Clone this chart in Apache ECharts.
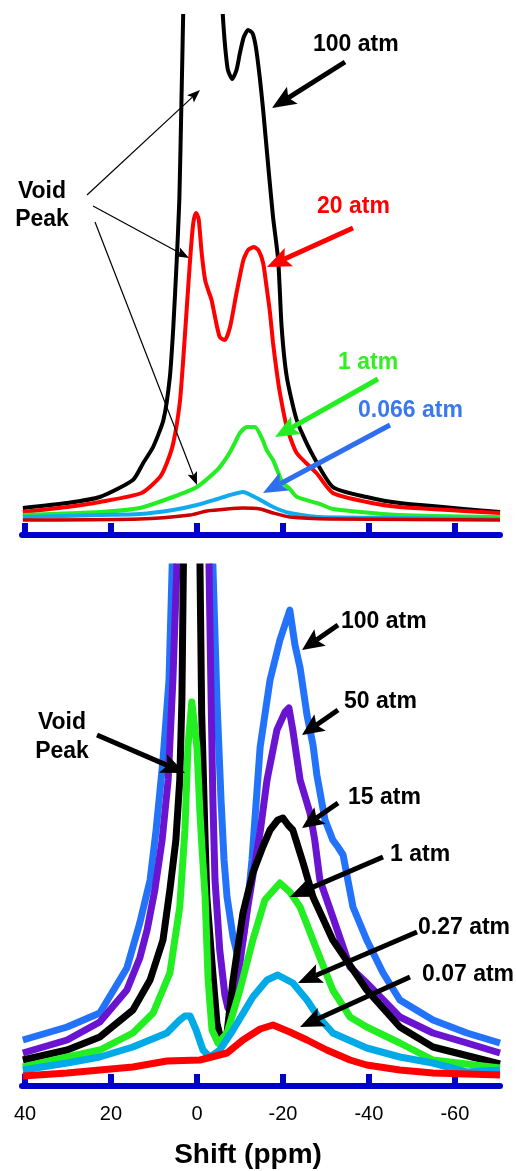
<!DOCTYPE html>
<html><head><meta charset="utf-8">
<script src="https://cdn.jsdelivr.net/npm/echarts@6/dist/echarts.min.js"></script>
<style>html,body{margin:0;padding:0;background:#fff}#c{width:516px;height:1171px}</style>
</head><body><div id="c"></div>
<script>
// ---------- DATA (ppm, intensity in arbitrary units) ----------
const tickValues = [40, 20, 0, -20, -40, -60];
const xTitle = 'Shift (ppm)';

// Top panel
const top100Ppm = [40.5,30.2,22.6,14.9,12.5,10.2,7.8,6.3,5.5,4.7,4.1,3.6,3.2,0.5,-6.0,-6.3,-6.7,-7.2,-8.2,-9.2,-10.0,-10.9,-11.9,-12.9,-13.7,-14.6,-15.4,-16.6,-17.7,-18.9,-19.7,-20.9,-23.2,-26.3,-31.6,-39.5,-47.2,-70.5];
const top100Val = [27,32,38,55,72,88,115,158,208,275,335,435,522,1200,522,502,482,465,456,465,482,498,505,502,488,458,425,368,318,275,208,158,115,85,48,38,32,23];
const top20Ppm = [40.5,30.2,22.6,12.9,8.6,7.0,5.5,4.0,3.2,2.4,1.6,1.1,0.7,0.2,-0.4,-1.1,-1.9,-2.6,-3.4,-4.2,-5.3,-6.5,-7.7,-9.2,-10.8,-11.9,-13.3,-14.4,-15.4,-16.2,-17.0,-17.7,-18.5,-19.3,-20.9,-23.2,-27.8,-31.6,-39.5,-47.2,-70.5];
const top20Val = [23,28,33,42,58,72,92,132,175,225,275,302,316,322,316,282,255,245,235,218,198,195,208,242,275,285,288,284,272,248,222,192,165,142,108,82,62,42,33,28,22];
const top1Ppm = [40.5,22.6,13.3,5.6,0,-4.7,-6.2,-7.7,-8.8,-10.0,-11.6,-13.5,-15.3,-16.2,-17.7,-19.3,-20.0,-21.6,-23.3,-28.6,-31.6,-47.2,-70.5];
const top1Val = [20,23,27,38,48,65,73,83,92,102,108,108,95,85,75,58,52,46,38,31,26,20,18];
const top0066Ppm = [40.5,22.6,13.3,5.6,0,-4.7,-7.7,-10.7,-13.9,-17.7,-21.6,-28.6,-47.2,-70.5];
const top0066Val = [18,20,21,25,30,36,40,43,37,28,22,18,17,16];
const topLowPpm = [40.5,13.3,1.6,-2.3,-7.0,-10.7,-14.7,-17.7,-21.6,-31.0,-70.5];
const topLowVal = [15,16,20,24,26,27,26,22,18,16,15];

// Bottom panel
const bot100Ppm = [40.5,30.2,22.6,16.3,13.3,10.9,9.5,7.9,6.5,5.75,1.2,-3.7,-4.65,-5.6,-6.3,-7.0,-8.4,-9.3,-10.7,-11.6,-12.8,-14.7,-17.0,-19.3,-21.6,-22.8,-24.0,-25.6,-27.0,-27.9,-29.8,-31.6,-32.8,-34.0,-36.3,-39.5,-43.3,-47.2,-54.9,-62.8,-70.5];
const bot100Val = [46,59,73,118,163,206,256,326,406,522,1100,522,386,286,226,189,149,133,146,173,226,339,406,446,476,441,418,371,341,311,266,246,239,231,179,146,113,86,66,53,43];
const bot50Ppm = [40.5,30.2,22.6,16.3,13.3,11.6,9.8,8.1,6.7,5.6,4.65,1.2,-2.8,-3.3,-3.7,-4.2,-5.3,-6.5,-7.2,-8.4,-10.0,-11.6,-13.5,-14.7,-16.3,-18.6,-20.5,-21.4,-22.3,-24.0,-26.3,-27.4,-28.6,-31.6,-35.6,-39.5,-47.2,-54.9,-62.8,-70.5];
const bot50Val = [33,46,64,96,128,156,196,246,306,406,522,1100,522,386,286,206,136,91,78,91,123,173,223,254,306,356,374,378,356,306,273,246,206,169,119,103,69,53,43,33];
const bot15Ppm = [40.5,30.2,22.6,14.9,10.9,7.9,6.3,4.9,4.0,3.5,3.15,1.2,-0.7,-1.1,-1.9,-2.3,-3.5,-4.65,-5.8,-7.0,-8.4,-10.7,-13.0,-15.3,-17.0,-18.8,-20.0,-21.2,-22.3,-24.7,-27.0,-31.6,-39.5,-47.2,-54.9,-70.5];
const bot15Val = [26,36,49,76,106,146,196,246,306,386,522,1100,522,373,246,189,123,63,43,53,106,173,213,239,256,266,268,261,256,223,189,146,96,59,39,22];
const bot1Ppm = [40.5,30.2,22.6,14.9,10.2,6.3,4.0,2.8,2.1,1.2,0.0,-0.7,-1.2,-1.9,-2.6,-3.5,-4.9,-7.0,-10.0,-13.0,-15.8,-19.3,-21.6,-24.0,-27.9,-31.6,-35.6,-39.5,-47.2,-54.9,-70.5];
const bot1Val = [19,29,36,53,73,113,179,256,339,384,339,273,236,189,106,56,43,53,96,146,186,203,194,179,136,96,69,59,43,26,18];
const bot027Ppm = [40.5,30.2,22.6,14.9,7.0,4.0,2.8,1.6,0.2,-1.4,-3.0,-5.3,-8.4,-13.0,-16.3,-18.8,-22.3,-25.6,-27.9,-31.6,-39.5,-47.2,-54.9,-62.8,-70.5];
const bot027Val = [16,23,29,39,53,66,70,70,56,36,29,36,56,89,106,111,103,86,71,53,38,29,23,14,16];
const bot007Ppm = [40.5,30.2,22.6,14.9,7.0,-0.7,-7.0,-10.7,-14.7,-17.7,-21.6,-25.6,-30.2,-35.6,-39.5,-47.2,-54.9,-70.5];
const bot007Val = [10,13,16,19,25,26,33,46,57,61,54,46,36,26,21,16,13,11];

// ---------- LAYOUT / STYLE ----------
const FONT = '"Liberation Sans", Arial, Helvetica, sans-serif';
const AXIS_BLUE = '#0000CC';
const topSeries = [
  {name:'100 atm', ppm: top100Ppm, val: top100Val, color:'#000000', w:4},
  {name:'20 atm', ppm: top20Ppm, val: top20Val, color:'#FF0000', w:4},
  {name:'1 atm', ppm: top1Ppm, val: top1Val, color:'#22EE22', w:4},
  {name:'0.066 atm', ppm: top0066Ppm, val: top0066Val, color:'#11AAEE', w:4},
  {name:'low', ppm: topLowPpm, val: topLowVal, color:'#CC0000', w:3.5}
];
const botSeries = [
  {name:'100 atm', ppm: bot100Ppm, val: bot100Val, color:'#2372FA', w:7},
  {name:'50 atm', ppm: bot50Ppm, val: bot50Val, color:'#6A14D2', w:7},
  {name:'15 atm', ppm: bot15Ppm, val: bot15Val, color:'#000000', w:7},
  {name:'1 atm', ppm: bot1Ppm, val: bot1Val, color:'#22EE22', w:7},
  {name:'0.27 atm', ppm: bot027Ppm, val: bot027Val, color:'#00AAE6', w:7},
  {name:'0.07 atm', ppm: bot007Ppm, val: bot007Val, color:'#FF0000', w:7}
];

function mkSeries(list, idx, smooth) {
  return list.map(s => ({
    type:'line', name:s.name + (idx ? ' (b)' : ''), xAxisIndex:idx, yAxisIndex:idx,
    data: s.ppm.map((p,i) => [p, s.val[i]]),
    showSymbol:false, symbol:'none', smooth: smooth, clip:true,
    lineStyle:{color:s.color, width:s.w, join:'round'}, silent:true
  }));
}

function xAxisCfg(i, showLabels) {
  return {
    type:'value', gridIndex:i, min:-70.5, max:40.7, inverse:true,
    axisLine:{show:true, onZero:false, lineStyle:{color:AXIS_BLUE, width:6}},
    axisTick:{show:true, inside:true, length:12, customValues:tickValues, lineStyle:{color:AXIS_BLUE, width:6}},
    axisLabel:{show:showLabels, customValues:tickValues, fontSize:20, color:'#000', margin:18, fontFamily:FONT},
    splitLine:{show:false}
  };
}
function yAxisCfg(i) {
  return {type:'value', gridIndex:i, min:0, max:519, show:false, splitLine:{show:false}};
}

// annotations: [text, x, y, color, align]
const labels = [
  ['100 atm', 313, 45, '#000000', 'left'],
  ['20 atm', 317, 207, '#FF0000', 'left'],
  ['1 atm', 338, 363, '#33EE22', 'left'],
  ['0.066 atm', 358, 411, '#3A78F0', 'left'],
  ['Void\nPeak', 42, 206, '#000000', 'center', 28],
  ['Void\nPeak', 62, 737, '#000000', 'center', 29],
  ['100 atm', 341, 622, '#000000', 'left'],
  ['50 atm', 344, 702, '#000000', 'left'],
  ['15 atm', 348, 798, '#000000', 'left'],
  ['1 atm', 390, 855, '#000000', 'left'],
  ['0.27 atm', 418, 928, '#000000', 'left'],
  ['0.07 atm', 422, 975, '#000000', 'left']
];
// arrows: [x1,y1,x2(tip),y2(tip),color,lineWidth,headLen,headWidth]
const arrows = [
  [345,62,272,108,'#000000',5,24,20],
  [353,228,267,267,'#FF0000',5,24,20],
  [378,379,275,437,'#22EE22',5,24,20],
  [390,425,263,493,'#2E6FEF',5,24,20],
  [87,195,200,90,'#000000',1.2,13,10],
  [93,206,189,258,'#000000',1.2,13,10],
  [95,222,197,485,'#000000',1.2,13,10],
  [97,735,185,773,'#000000',5,24,20],
  [338,625,302,650,'#000000',5,22,20],
  [338,710,302,735,'#000000',5,22,20],
  [338,803,302,828,'#000000',5,22,20],
  [383,857,290,897,'#000000',5,24,20],
  [417,932,298,983,'#000000',5,24,20],
  [410,977,300,1027,'#000000',5,24,20]
];

function arrowEls(a) {
  const [x1,y1,x2,y2,color,lw,hl,hw] = a;
  const dx=x2-x1, dy=y2-y1, L=Math.hypot(dx,dy), ux=dx/L, uy=dy/L, px=-uy, py=ux;
  const bx=x2-ux*hl, by=y2-uy*hl;
  const nx=x2-ux*hl*0.8, ny=y2-uy*hl*0.8;
  return [
    {type:'line', z:50, shape:{x1:x1,y1:y1,x2:nx,y2:ny}, style:{stroke:color, lineWidth:lw}},
    {type:'polygon', z:50, shape:{points:[[x2,y2],[bx+px*hw/2,by+py*hw/2],[nx,ny],[bx-px*hw/2,by-py*hw/2]]}, style:{fill:color}}
  ];
}

const graphic = [];
arrows.forEach(a => arrowEls(a).forEach(e => graphic.push(e)));
labels.forEach(l => graphic.push({
  type:'text', z:60, x:l[1], y:l[2],
  style:{text:l[0], fill:l[3], fontSize:23, fontWeight:'bold', fontFamily:FONT,
         textAlign:l[4], textVerticalAlign:'middle', lineHeight:l[5] || 28}
}));
graphic.push({type:'text', z:60, x:248, y:1155,
  style:{text:xTitle, fill:'#000', fontSize:28, fontWeight:'bold', fontFamily:FONT, textAlign:'center', textVerticalAlign:'middle'}});

const chart = echarts.init(document.getElementById('c'), null, {renderer:'canvas'});
chart.setOption({
  animation:false,
  backgroundColor:'#ffffff',
  grid:[
    {left:22, right:16, top:16, bottom:636},
    {left:22, right:16, top:567, bottom:85}
  ],
  xAxis:[xAxisCfg(0,false), xAxisCfg(1,true)],
  yAxis:[yAxisCfg(0), yAxisCfg(1)],
  series:[...mkSeries(topSeries,0,0.2), ...mkSeries(botSeries,1,false)],
  graphic: graphic
});
</script></body></html>
